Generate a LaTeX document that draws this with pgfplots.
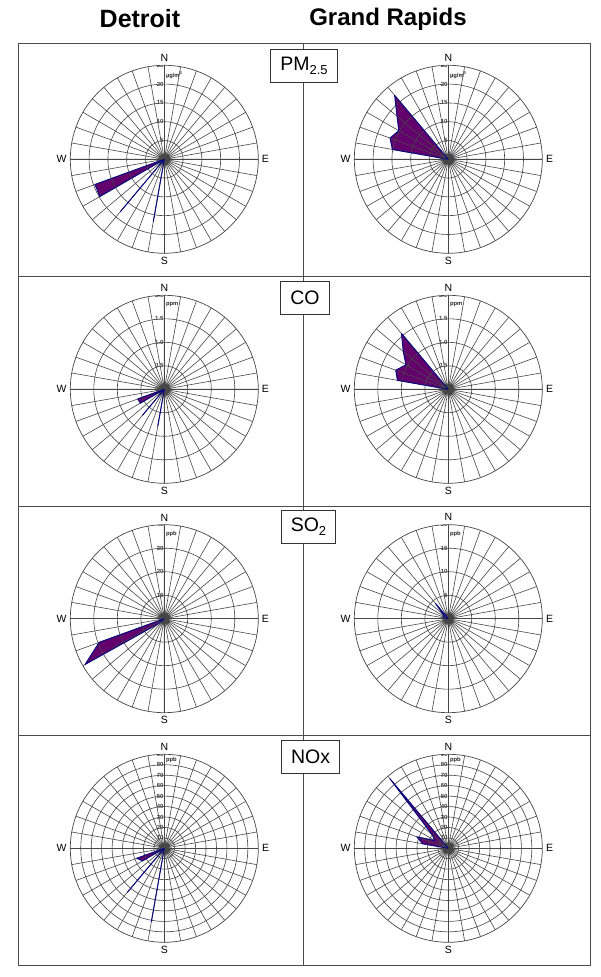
\documentclass[border=0pt]{standalone}
\usepackage{pgfplots}
\pgfplotsset{compat=1.18}
\usepgfplotslibrary{polar}
\usepackage{pgfplotstable}
\usepackage{fontspec}
\setmainfont{Liberation Sans}

\definecolor{fillc}{RGB}{100,0,110}
\definecolor{edgec}{RGB}{10,10,128}
\definecolor{gridc}{RGB}{70,70,70}

% wind direction (deg from N, clockwise) / mean concentration
\pgfplotstableread{
dir r
180 0
190 16.8
200 0
220 18.1
230 0
240 19.8
250 19.6
260 0
}\dPM
\pgfplotstableread{
dir r
260 0
270 0
280 15.1
290 16.5
300 15.2
310 17.8
320 22.2
330 0
}\gPM
\pgfplotstableread{
dir r
180 0
190 0.79
200 0
220 0.72
230 0
240 0.59
250 0.60
260 0
}\dCO
\pgfplotstableread{
dir r
270 0
280 1.10
290 1.19
300 1.04
310 1.25
320 1.55
330 0
}\gCO
\pgfplotstableread{
dir r
220 0
230 3.5
240 38.9
250 29.5
260 0
}\dSO
\pgfplotstableread{
dir r
270 0
280 0.8
290 1.2
300 1.0
310 1.5
320 4.2
330 0
}\gSO
\pgfplotstableread{
dir r
180 0
190 71.4
200 0
220 54.8
230 0
240 24
250 28
260 0
}\dNO
\pgfplotstableread{
dir r
270 0
280 25
290 32
300 15
310 20
320 87
330 0
}\gNO

\pgfplotsset{
  rosebase/.style={anchor=center, width=188pt, height=188pt, scale only axis, ymin=0},
  rose/.style={
    rosebase,
    xtick={0,90,180,270}, xticklabels={E,N,W,S},
    minor xtick={0,10,...,350},
    yticklabels={},
    grid=both,
    major grid style={gridc, line width=0.6pt},
    minor grid style={gridc, line width=0.6pt},
    axis line style={gridc, line width=0.7pt},
    major tick length=0pt, minor tick length=0pt,
    xticklabel style={font=\fontsize{10.5}{12}\selectfont, inner sep=3.5pt},
    axis on top,
  },
  % second, bare axis at the same place: the outline drawn over the grid
  rosetop/.style={rosebase, hide axis},
  fillp/.style={fill=fillc, draw=none},
  edgep/.style={draw=edgec, line width=1pt, line join=round},
}
\tikzset{
  rlab/.style={font=\bfseries\fontsize{6}{6}\selectfont, text=black!75, anchor=east, inner sep=0.6pt},
  ulab/.style={font=\bfseries\fontsize{5.8}{6}\selectfont, text=black!85, anchor=west, inner sep=1.5pt},
  pbox/.style={draw=black!80, line width=0.8pt, fill=white, font=\fontsize{19.5}{20}\selectfont, minimum height=33pt, inner xsep=9.5pt},
}
\newcommand{\rl}[2]{\node[rlab] at (axis cs:90,#1) {#2};}
\newcommand{\sub}[1]{\raisebox{-0.35ex}{\fontsize{13}{13}\selectfont #1}}

\begin{document}
\begin{tikzpicture}[x=1pt,y=1pt]
\useasboundingbox (0,0) rectangle (600,977);

\node[font=\bfseries\fontsize{25}{27}\selectfont] at (140,958) {Detroit};
\node[font=\bfseries\fontsize{24}{26}\selectfont] at (388,958) {Grand Rapids};

\draw[black!70, line width=0.8pt] (18,934) rectangle (590,12);
\draw[black!70, line width=0.8pt] (303,934) -- (303,12);
\foreach \yy in {701,471,242} \draw[black!70, line width=0.8pt] (18,\yy) -- (590,\yy);

% PM2.5
\begin{polaraxis}[rose, at={(164.3pt,817.7pt)}, ymax=25, ytick={5,10,15,20}]
\addplot[fillp] table[x expr={mod(450-\thisrow{dir},360)}, y=r] {\dPM};
\pgfplotsinvokeforeach{0,5,10,15,20,25}{\rl{#1}{#1}}
\node[ulab] at (axis cs:90,22.3) {µg/m\textsuperscript{3}};
\end{polaraxis}
\begin{polaraxis}[rosetop, at={(164.3pt,817.7pt)}, ymax=25]
\addplot[edgep] table[x expr={mod(450-\thisrow{dir},360)}, y=r] {\dPM};
\end{polaraxis}
\begin{polaraxis}[rose, at={(448.3pt,817.7pt)}, ymax=25, ytick={5,10,15,20}]
\addplot[fillp] table[x expr={mod(450-\thisrow{dir},360)}, y=r] {\gPM};
\pgfplotsinvokeforeach{0,5,10,15,20,25}{\rl{#1}{#1}}
\node[ulab] at (axis cs:90,22.3) {µg/m\textsuperscript{3}};
\end{polaraxis}
\begin{polaraxis}[rosetop, at={(448.3pt,817.7pt)}, ymax=25]
\addplot[edgep] table[x expr={mod(450-\thisrow{dir},360)}, y=r] {\gPM};
\end{polaraxis}

% CO
\begin{polaraxis}[rose, at={(164.3pt,587.7pt)}, ymax=2, ytick={0.5,1,1.5}]
\addplot[fillp] table[x expr={mod(450-\thisrow{dir},360)}, y=r] {\dCO};
\rl{0}{0.0}\rl{0.5}{0.5}\rl{1}{1.0}\rl{1.5}{1.5}\rl{2}{2.0}
\node[ulab] at (axis cs:90,1.8) {ppm};
\end{polaraxis}
\begin{polaraxis}[rosetop, at={(164.3pt,587.7pt)}, ymax=2]
\addplot[edgep] table[x expr={mod(450-\thisrow{dir},360)}, y=r] {\dCO};
\end{polaraxis}
\begin{polaraxis}[rose, at={(448.3pt,587.7pt)}, ymax=2, ytick={0.5,1,1.5}]
\addplot[fillp] table[x expr={mod(450-\thisrow{dir},360)}, y=r] {\gCO};
\rl{0}{0.0}\rl{0.5}{0.5}\rl{1}{1.0}\rl{1.5}{1.5}\rl{2}{2.0}
\node[ulab] at (axis cs:90,1.8) {ppm};
\end{polaraxis}
\begin{polaraxis}[rosetop, at={(448.3pt,587.7pt)}, ymax=2]
\addplot[edgep] table[x expr={mod(450-\thisrow{dir},360)}, y=r] {\gCO};
\end{polaraxis}

% SO2
\begin{polaraxis}[rose, at={(164.3pt,358.3pt)}, ymax=40, ytick={10,20,30}]
\addplot[fillp] table[x expr={mod(450-\thisrow{dir},360)}, y=r] {\dSO};
\pgfplotsinvokeforeach{0,10,20,30,40}{\rl{#1}{#1}}
\node[ulab] at (axis cs:90,36) {ppb};
\end{polaraxis}
\begin{polaraxis}[rosetop, at={(164.3pt,358.3pt)}, ymax=40]
\addplot[edgep] table[x expr={mod(450-\thisrow{dir},360)}, y=r] {\dSO};
\end{polaraxis}
\begin{polaraxis}[rose, at={(448.3pt,358.3pt)}, ymax=20, ytick={5,10,15}]
\addplot[fillp] table[x expr={mod(450-\thisrow{dir},360)}, y=r] {\gSO};
\pgfplotsinvokeforeach{0,5,10,15,20}{\rl{#1}{#1}}
\node[ulab] at (axis cs:90,18) {ppb};
\end{polaraxis}
\begin{polaraxis}[rosetop, at={(448.3pt,358.3pt)}, ymax=20]
\addplot[edgep] table[x expr={mod(450-\thisrow{dir},360)}, y=r] {\gSO};
\end{polaraxis}

% NOx
\begin{polaraxis}[rose, at={(164.3pt,128.7pt)}, ymax=90, ytick={10,20,...,80}]
\addplot[fillp] table[x expr={mod(450-\thisrow{dir},360)}, y=r] {\dNO};
\pgfplotsinvokeforeach{0,10,20,30,40,50,60,70,80,90}{\rl{#1}{#1}}
\node[ulab] at (axis cs:90,84.5) {ppb};
\end{polaraxis}
\begin{polaraxis}[rosetop, at={(164.3pt,128.7pt)}, ymax=90]
\addplot[edgep] table[x expr={mod(450-\thisrow{dir},360)}, y=r] {\dNO};
\end{polaraxis}
\begin{polaraxis}[rose, at={(448.3pt,128.7pt)}, ymax=90, ytick={10,20,...,80}]
\addplot[fillp] table[x expr={mod(450-\thisrow{dir},360)}, y=r] {\gNO};
\pgfplotsinvokeforeach{0,10,20,30,40,50,60,70,80,90}{\rl{#1}{#1}}
\node[ulab] at (axis cs:90,84.5) {ppb};
\end{polaraxis}
\begin{polaraxis}[rosetop, at={(448.3pt,128.7pt)}, ymax=90]
\addplot[edgep] table[x expr={mod(450-\thisrow{dir},360)}, y=r] {\gNO};
\end{polaraxis}

\node[pbox] at (304,911) {PM\sub{2.5}};
\node[pbox] at (305,679.5) {CO};
\node[pbox] at (308.5,450) {SO\sub{2}};
\node[pbox] at (310.5,220.5) {NOx};
\end{tikzpicture}
\end{document}
